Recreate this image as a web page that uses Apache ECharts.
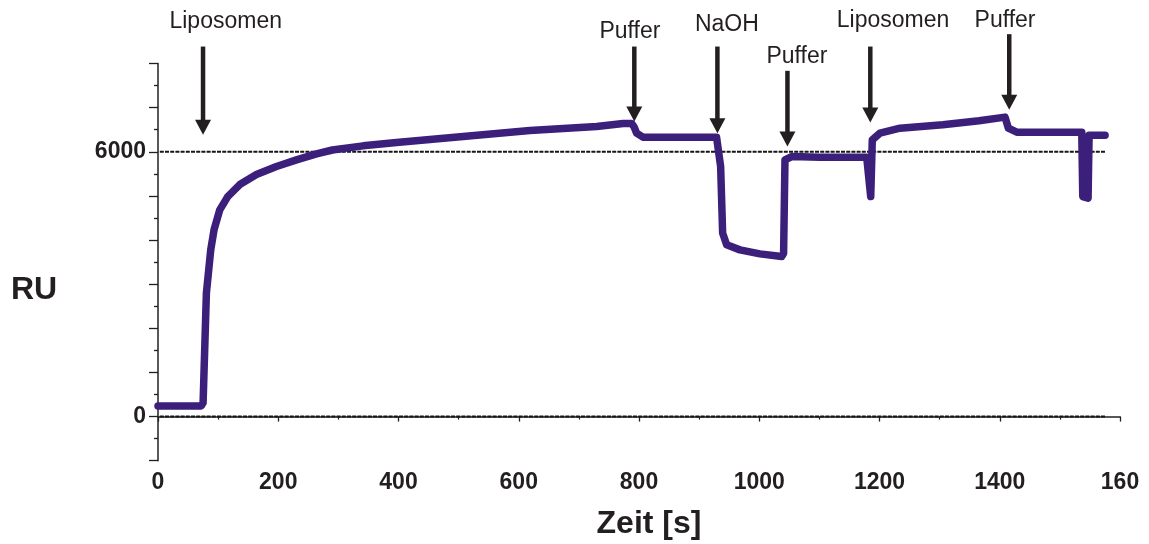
<!DOCTYPE html>
<html>
<head>
<meta charset="utf-8">
<script src="https://cdn.jsdelivr.net/npm/echarts@6/dist/echarts.min.js"></script>
<style>
  html, body { margin: 0; padding: 0; background: #ffffff; }
  #chart { width: 1149px; height: 544px; }
</style>
</head>
<body>
<div id="chart"></div>
<script>
// ---- data ----
const timeS = [0, 72, 75, 80.5, 87.7, 93.2, 102.7, 116, 136, 163.7, 197, 230.3, 263.6, 290, 341,
  396.7, 507.5, 618.5, 729.5, 773.7, 788, 792, 796, 806.5, 929, 935.8, 939.1, 945.8, 967.9,
  1001.2, 1037.3, 1040.5, 1042.8, 1053.9, 1101, 1178.7, 1185.4, 1188, 1200.8, 1234, 1305.3,
  1365.6, 1408.8, 1414.3, 1428.3, 1536.4, 1538.1, 1546.9, 1548.6, 1575.2];
const signalRU = [242, 242, 310, 2803, 3777, 4231, 4684, 4985, 5257, 5484, 5665, 5817, 5953, 6040, 6134,
  6209, 6345, 6481, 6571, 6640, 6640, 6560, 6422, 6331, 6331, 5665, 4156, 3891, 3777,
  3687, 3626, 3700, 5817, 5892, 5878, 5878, 4985, 6270, 6422, 6535, 6614,
  6701, 6785, 6535, 6445, 6445, 4985, 4949, 6377, 6377];

const refLevelsRU = [0, 6000];
const refStartS = 3;
const refEndS = 1575;

const eventLabels = ['Liposomen', 'Puffer', 'NaOH', 'Puffer', 'Liposomen', 'Puffer'];
const eventTimes  = [74.9, 792.2, 930.4, 1046.9, 1184.7, 1415.8];
const arrowTipRU  = [6383, 6685, 6422, 6118, 6662, 6950];
const arrowTailRU = [8384, 8384, 8384, 7834, 8384, 8665];
const labelTimes  = [112.6, 784.8, 946.2, 1062.7, 1222.5, 1408.8];
const labelRU     = [8951, 8711, 8876, 8144, 8973, 8973];

const xTickLabels = { 0: '0', 200: '200', 400: '400', 600: '600', 800: '800', 1000: '1000', 1200: '1200', 1400: '1400', 1600: '160' };
const yTickLabels = { 0: '0', 6000: '6000' };
const yAxisTitle = 'RU';
const xAxisTitle = 'Zeit [s]';

// ---- chart ----
const FONT = '"Liberation Sans", Arial, Helvetica, sans-serif';
const INK = '#231f20';
const chart = echarts.init(document.getElementById('chart'), null, { renderer: 'canvas' });

const curve = timeS.map((t, i) => [t, signalRU[i]]);
const refSeries = refLevelsRU.map(v => ({
  type: 'line',
  data: [[refStartS, v], [refEndS, v]],
  showSymbol: false,
  silent: true,
  z: 1,
  lineStyle: { color: '#151515', width: 2, type: [4, 1.2] }
}));
const annData = eventTimes.map((t, i) => [t, arrowTipRU[i], arrowTailRU[i], labelTimes[i], labelRU[i]]);

chart.setOption({
  animation: false,
  backgroundColor: '#ffffff',
  grid: { left: 158, right: 29, top: 63.5, bottom: 83.3, containLabel: false, outerBoundsMode: 'none' },
  graphic: [
    { type: 'text', left: 11, top: 274, style: { text: yAxisTitle, font: 'bold 32px ' + FONT, fill: INK } }
  ],
  xAxis: {
    type: 'value', min: 0, max: 1600, interval: 200,
    name: xAxisTitle, nameLocation: 'middle', nameGap: 47,
    nameTextStyle: { fontFamily: FONT, fontWeight: 'bold', fontSize: 32, color: INK, padding: [0, 0, 0, 20] },
    axisLine: { show: true, lineStyle: { color: INK, width: 1.5 } },
    axisTick: { show: true, length: 5, lineStyle: { color: INK, width: 1.3 } },
    minorTick: { show: true, splitNumber: 2, length: 3, lineStyle: { color: INK, width: 1.2 } },
    splitLine: { show: false },
    axisLabel: {
      margin: 10, fontFamily: FONT, fontWeight: 'bold', fontSize: 23, color: INK,
      formatter: v => (xTickLabels[v] !== undefined ? xTickLabels[v] : '')
    }
  },
  yAxis: {
    type: 'value', min: -1000, max: 8000, interval: 1000,
    axisLine: { show: true, lineStyle: { color: INK, width: 1.5 } },
    axisTick: { show: true, length: 9, lineStyle: { color: INK, width: 1.3 } },
    minorTick: { show: true, splitNumber: 2, length: 4, lineStyle: { color: INK, width: 1.3 } },
    splitLine: { show: false },
    axisLabel: {
      margin: 12, fontFamily: FONT, fontWeight: 'bold', fontSize: 23, color: INK,
      formatter: v => (yTickLabels[v] !== undefined ? yTickLabels[v] : '')
    }
  },
  series: [
    ...refSeries,
    {
      type: 'line',
      data: curve,
      showSymbol: false,
      z: 3,
      lineStyle: { color: '#3c1f7b', width: 7.5, join: 'round', cap: 'round' }
    },
    {
      type: 'custom',
      data: annData,
      clip: false,
      z: 5,
      silent: true,
      renderItem: (params, api) => {
        const tip = api.coord([api.value(0), api.value(1)]);
        const tail = api.coord([api.value(0), api.value(2)]);
        const lab = api.coord([api.value(3), api.value(4)]);
        const headH = 15, headW = 8;
        return {
          type: 'group',
          children: [
            { type: 'line', shape: { x1: tail[0], y1: tail[1], x2: tip[0], y2: tip[1] - headH + 2 },
              style: { stroke: INK, lineWidth: 4.5 } },
            { type: 'polygon', shape: { points: [[tip[0] - headW, tip[1] - headH], [tip[0] + headW, tip[1] - headH], [tip[0], tip[1]]] },
              style: { fill: INK } },
            { type: 'text', x: lab[0], y: lab[1],
              style: { text: eventLabels[params.dataIndex], fill: INK, font: '23px ' + FONT, align: 'center', verticalAlign: 'middle' } }
          ]
        };
      }
    }
  ]
});
</script>
</body>
</html>
